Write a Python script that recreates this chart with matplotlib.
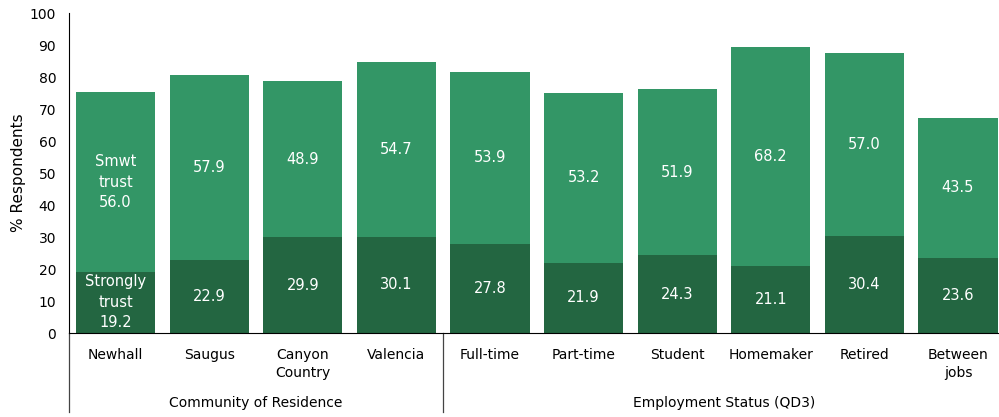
import matplotlib.pyplot as plt
import numpy as np

# Trust levels by community and employment status (% respondents)
categories = ["Newhall", "Saugus", "Canyon\nCountry", "Valencia",
              "Full-time", "Part-time", "Student", "Homemaker", "Retired",
              "Between\njobs"]
strongly = [19.2, 22.9, 29.9, 30.1, 27.8, 21.9, 24.3, 21.1, 30.4, 23.6]
smwt = [56.0, 57.9, 48.9, 54.7, 53.9, 53.2, 51.9, 68.2, 57.0, 43.5]
groups = ["Community of Residence", "Employment Status (QD3)"]
group_sizes = [4, 6]

dark = "#236641"
light = "#339666"

plt.rcParams["font.family"] = "DejaVu Sans"
fig = plt.figure(figsize=(9.99, 4.17), dpi=100)
ax = fig.add_axes([0.0688, 0.2014, 0.937, 0.767])

x = np.arange(len(categories))
ax.bar(x, strongly, width=0.845, color=dark)
ax.bar(x, smwt, width=0.845, bottom=strongly, color=light)

for i in x:
    if i == 0:
        s1 = "Strongly\ntrust\n%.1f" % strongly[i]
        s2 = "Smwt\ntrust\n%.1f" % smwt[i]
    else:
        s1 = "%.1f" % strongly[i]
        s2 = "%.1f" % smwt[i]
    ax.text(i, strongly[i] / 2, s1, ha="center", va="center",
            color="white", fontsize=10.5, linespacing=1.45)
    ax.text(i, strongly[i] + smwt[i] / 2, s2, ha="center", va="center",
            color="white", fontsize=10.5, linespacing=1.45)

ax.set_xlim(-0.5, len(categories) - 0.5)
ax.set_ylim(0, 100)
ax.set_yticks(range(0, 101, 10))
ax.set_xticks(x)
ax.set_xticklabels(categories, fontsize=10, linespacing=1.3, va="top")
ax.tick_params(axis="both", length=0)
ax.tick_params(axis="x", pad=11)
ax.tick_params(axis="y", pad=9, labelsize=10)
ax.set_ylabel("% Respondents", fontsize=11, labelpad=3)

for side in ["top", "right"]:
    ax.spines[side].set_visible(False)
for side in ["left", "bottom"]:
    ax.spines[side].set_color("black")
    ax.spines[side].set_linewidth(0.8)

# group separators and group titles below the axis
trans = ax.get_xaxis_transform()
start = 0
bounds = [-0.5]
for name, n in zip(groups, group_sizes):
    center = start + (n - 1) / 2
    ax.text(center, -0.219, name, transform=trans, ha="center", va="center",
            fontsize=10)
    start += n
    bounds.append(start - 0.5)
for b in bounds[:-1]:
    ax.plot([b, b], [0, -0.247], transform=trans, color="#444444",
            linewidth=0.9, clip_on=False)

fig.savefig("out.png", dpi=100)
